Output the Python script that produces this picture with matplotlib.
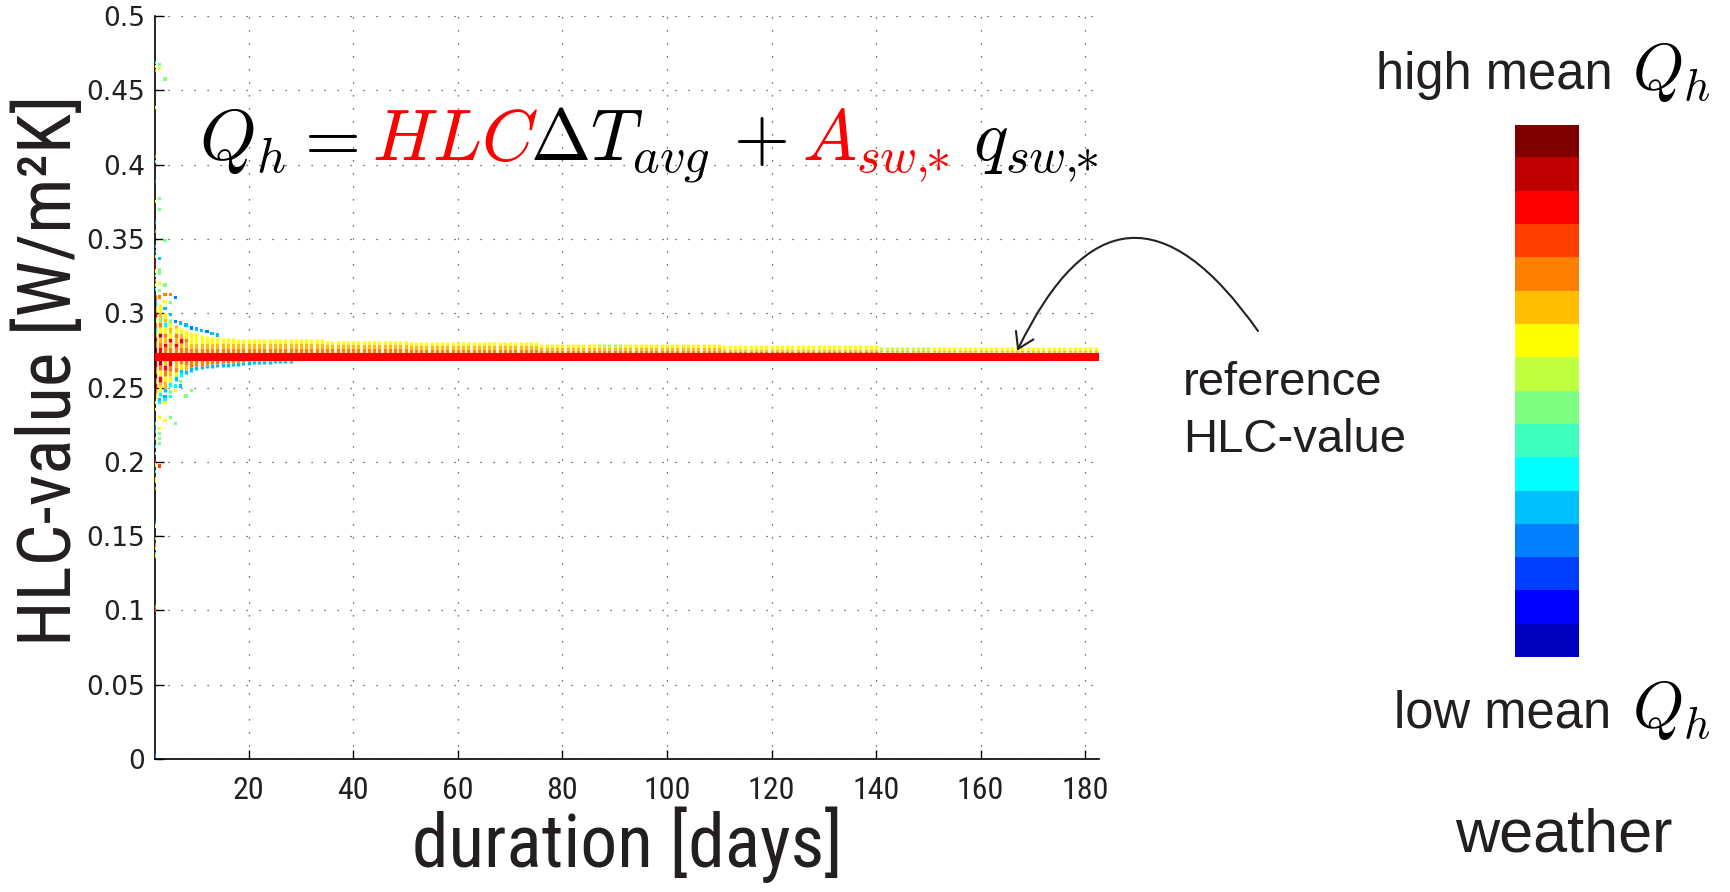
import numpy as np
import matplotlib
matplotlib.use("Agg")
import matplotlib.pyplot as plt
from matplotlib.colors import ListedColormap
from matplotlib import font_manager

W, H, DPI = 1730, 892, 100

plt.rcParams["mathtext.fontset"] = "cm"
_installed = {f.name for f in font_manager.fontManager.ttflist}
SANS = "Liberation Sans"
NARROW = SANS
for _cand in ("Liberation Sans Narrow", "Roboto Condensed", "Arial Narrow"):
    if _cand in _installed:
        NARROW = _cand
        break
LABEL_SIZE = 53 if NARROW != SANS else 46.5
XTICK_SIZE = 23 if NARROW != SANS else 17.5
YTICK_FONT = "DejaVu Sans"
TEXT_COLOR = "#231f20"

# MATLAB jet(16): index 0 = lowest mean Q_h, 15 = highest mean Q_h
weather_colors = [
    (0.00, 0.00, 0.75), (0.00, 0.00, 1.00), (0.00, 0.25, 1.00), (0.00, 0.50, 1.00),
    (0.00, 0.75, 1.00), (0.00, 1.00, 1.00), (0.25, 1.00, 0.75), (0.50, 1.00, 0.50),
    (0.75, 1.00, 0.25), (1.00, 1.00, 0.00), (1.00, 0.75, 0.00), (1.00, 0.50, 0.00),
    (1.00, 0.25, 0.00), (1.00, 0.00, 0.00), (0.75, 0.00, 0.00), (0.50, 0.00, 0.00),
]

# reference HLC-value
ref_hlc = 0.2707
ref_days = [2, 182]

# short durations: stacked estimates per duration as (low, high, weather class)
col_d2 = [(0.2430, 0.2465, 9), (0.2465, 0.2500, 11), (0.2500, 0.2530, 13), (0.2530, 0.2565, 10),
          (0.2565, 0.2600, 14), (0.2600, 0.2640, 11), (0.2640, 0.2700, 13),
          (0.2720, 0.2770, 14), (0.2770, 0.2810, 11), (0.2810, 0.2840, 13), (0.2840, 0.2875, 10),
          (0.2875, 0.2900, 5), (0.2900, 0.2940, 11), (0.2940, 0.2975, 9), (0.2975, 0.3010, 13),
          (0.3010, 0.3050, 10), (0.3050, 0.3085, 4), (0.3085, 0.3125, 11)]
col_d3 = [(0.2440, 0.2470, 5), (0.2470, 0.2510, 9), (0.2510, 0.2540, 10), (0.2540, 0.2575, 13),
          (0.2575, 0.2615, 9), (0.2615, 0.2650, 11), (0.2650, 0.2700, 14),
          (0.2720, 0.2770, 13), (0.2770, 0.2805, 11), (0.2805, 0.2840, 10), (0.2840, 0.2870, 14),
          (0.2870, 0.2905, 9), (0.2905, 0.2940, 11), (0.2940, 0.2975, 7), (0.2975, 0.3010, 10),
          (0.3010, 0.3060, 9)]
col_d4 = [(0.2470, 0.2500, 4), (0.2500, 0.2545, 10), (0.2545, 0.2580, 9), (0.2580, 0.2615, 11),
          (0.2615, 0.2650, 13), (0.2650, 0.2700, 10),
          (0.2720, 0.2770, 11), (0.2770, 0.2800, 13), (0.2800, 0.2840, 10), (0.2840, 0.2870, 11),
          (0.2870, 0.2910, 9), (0.2910, 0.2940, 5), (0.2940, 0.2970, 10), (0.2970, 0.3000, 9)]
col_d5 = [(0.2505, 0.2535, 5), (0.2535, 0.2575, 9), (0.2575, 0.2610, 10), (0.2610, 0.2645, 11),
          (0.2645, 0.2700, 13),
          (0.2720, 0.2770, 11), (0.2770, 0.2805, 10), (0.2805, 0.2835, 13), (0.2835, 0.2870, 9),
          (0.2870, 0.2905, 10), (0.2905, 0.2935, 9), (0.2935, 0.2960, 7)]
col_d6 = [(0.2545, 0.2575, 4), (0.2575, 0.2605, 9), (0.2605, 0.2640, 11), (0.2640, 0.2700, 10),
          (0.2720, 0.2770, 11), (0.2770, 0.2800, 13), (0.2800, 0.2835, 10), (0.2835, 0.2865, 11),
          (0.2865, 0.2900, 9), (0.2900, 0.2920, 10)]
col_d7 = [(0.2570, 0.2595, 5), (0.2595, 0.2625, 4), (0.2625, 0.2655, 9), (0.2655, 0.2700, 11),
          (0.2720, 0.2770, 11), (0.2770, 0.2800, 10), (0.2800, 0.2830, 13), (0.2830, 0.2865, 10),
          (0.2865, 0.2900, 9)]
col_d8 = [(0.2590, 0.2620, 4), (0.2620, 0.2650, 10), (0.2650, 0.2700, 11),
          (0.2720, 0.2770, 11), (0.2770, 0.2805, 10), (0.2805, 0.2835, 11), (0.2835, 0.2885, 9)]
short_days = [2, 3, 4, 5, 6, 7, 8]
short_cols = [col_d2, col_d3, col_d4, col_d5, col_d6, col_d7, col_d8]

# medium durations: cyan fringe below, orange / amber / yellow above the reference
mid_days = list(range(9, 29))
mid_bottom = [0.2605, 0.2615, 0.2622, 0.2628, 0.2634, 0.2638, 0.2640, 0.2641, 0.2644, 0.2647,
              0.2649, 0.2652, 0.2655, 0.2657, 0.2659, 0.2661, 0.2662, 0.2663, 0.2664, 0.2665]
mid_cyan_top = [0.2635, 0.2642, 0.2648, 0.2652, 0.2656, 0.2660, 0.2662, 0.2664, 0.2667, 0.2669,
                0.2671, 0.2680, 0.2680, 0.2680, 0.2680, 0.2680, 0.2680, 0.2680, 0.2680, 0.2680]
mid_top = [0.2875, 0.2865, 0.2855, 0.2848, 0.2842, 0.2838, 0.2835, 0.2832, 0.2830, 0.2828,
           0.2827, 0.2826, 0.2826, 0.2826, 0.2826, 0.2826, 0.2826, 0.2826, 0.2826, 0.2826]
mid_orange_top = 0.2768
mid_amber_top = 0.2800

# long durations: blocks of days sharing the same narrow band above the reference
late_first = [29, 35, 51, 76, 87, 92, 111, 141, 151]
late_last = [34, 50, 75, 86, 91, 110, 140, 150, 182]
late_orange_top = [0.2765, 0.2765, 0.2760, 0.2755, 0.2755, 0.2755, 0.2745, 0.2742, 0.2742]
late_amber_top = [0.2800, 0.2795, 0.2785, 0.2775, 0.2775, 0.2775, 0.2762, 0.2752, 0.2752]
late_top = [0.2826, 0.2815, 0.2805, 0.2792, 0.2792, 0.2792, 0.2783, 0.2775, 0.2775]
late_top_class = [9, 9, 9, 9, 8, 9, 9, 8, 9]

# isolated estimates: (duration, HLC, weather class)
outliers_upper = [
    (2, 0.4688, 5), (2, 0.4659, 9), (2, 0.4632, 11), (2, 0.4385, 9), (2, 0.4053, 11),
    (2, 0.4020, 7), (2, 0.3885, 3), (2, 0.3750, 9), (2, 0.3609, 3), (2, 0.3549, 11),
    (2, 0.3448, 4), (2, 0.3414, 3), (2, 0.3380, 9), (2, 0.3336, 13), (2, 0.3310, 14),
    (2, 0.3283, 9), (2, 0.3255, 7), (2, 0.3220, 11), (2, 0.3190, 9), (2, 0.3160, 5),
    (3, 0.4674, 7), (3, 0.4645, 9), (3, 0.3772, 7), (3, 0.3699, 7), (3, 0.3370, 4),
    (3, 0.3292, 7), (3, 0.3270, 7), (3, 0.3200, 9), (3, 0.3155, 7), (3, 0.3110, 11),
    (4, 0.4575, 7), (4, 0.3489, 7), (4, 0.3190, 7), (4, 0.3125, 11), (4, 0.3080, 9),
    (5, 0.3125, 11), (5, 0.3070, 7), (6, 0.3104, 3),
    (4, 0.3030, 4), (5, 0.2990, 4), (6, 0.2945, 3), (7, 0.2935, 4), (8, 0.2920, 4),
    (9, 0.2900, 3), (10, 0.2893, 4), (11, 0.2882, 4), (12, 0.2876, 3), (13, 0.2862, 4),
    (14, 0.2853, 4),
]
outliers_lower = [
    (2, 0.2400, 9), (2, 0.2353, 9), (2, 0.2259, 7), (2, 0.2236, 3), (2, 0.2219, 3),
    (2, 0.2203, 4), (2, 0.2158, 7), (2, 0.2102, 5), (2, 0.2057, 7), (2, 0.2001, 13),
    (2, 0.1978, 9), (2, 0.1933, 5), (2, 0.1889, 9), (2, 0.1866, 9), (2, 0.1822, 11),
    (2, 0.1590, 3), (2, 0.1568, 9), (2, 0.1485, 7), (2, 0.1440, 11), (2, 0.1418, 9),
    (2, 0.1384, 5), (2, 0.1366, 9), (2, 0.1025, 11), (2, 0.1003, 12), (2, 0.0020, 3),
    (3, 0.2420, 4), (3, 0.2400, 5), (3, 0.2300, 9), (3, 0.2225, 9), (3, 0.2189, 7),
    (3, 0.2156, 7), (3, 0.2122, 7), (3, 0.1971, 12),
    (4, 0.2440, 4), (4, 0.2420, 5), (4, 0.2398, 9), (4, 0.2279, 9),
    (5, 0.2470, 7), (5, 0.2440, 5), (5, 0.2300, 7),
    (6, 0.2510, 5), (6, 0.2480, 9), (6, 0.2259, 7),
    (7, 0.2540, 7), (7, 0.2510, 4), (8, 0.2443, 7), (9, 0.2479, 7),
]

hlc_ticks = [0, 0.05, 0.1, 0.15, 0.2, 0.25, 0.3, 0.35, 0.4, 0.45, 0.5]
hlc_tick_labels = ["0", "0.05", "0.1", "0.15", "0.2", "0.25", "0.3", "0.35", "0.4", "0.45", "0.5"]
duration_ticks = [20, 40, 60, 80, 100, 120, 140, 160, 180]
duration_lim = (2, 182.7)


def px(x, y):
    """pixel position (from top-left) -> figure fraction"""
    return x / W, 1 - y / H


fig = plt.figure(figsize=(W / DPI, H / DPI), dpi=DPI)
fig.patch.set_facecolor("white")

ax_l, ax_r, ax_t, ax_b = 154.6, 1099.3, 16.0, 759.0
ax = fig.add_axes([ax_l / W, 1 - ax_b / H, (ax_r - ax_l) / W, (ax_b - ax_t) / H])

DOT_PT = 2.4  # marker edge in points

# gather the vertical runs of stacked estimates
seg_x, seg_lo, seg_hi, seg_c = [], [], [], []


def add_run(day, lo, hi, cls):
    seg_x.append(day)
    seg_lo.append(lo)
    seg_hi.append(hi)
    seg_c.append(weather_colors[cls])


for day, runs in zip(short_days, short_cols):
    for lo, hi, cls in runs:
        add_run(day, lo, hi, cls)

for i, day in enumerate(mid_days):
    add_run(day, mid_bottom[i], mid_cyan_top[i], 4)
    add_run(day, mid_cyan_top[i], mid_orange_top, 11)
    add_run(day, mid_orange_top, mid_amber_top, 10)
    add_run(day, mid_amber_top, mid_top[i], 9)

for k in range(len(late_first)):
    for day in range(late_first[k], late_last[k] + 1):
        add_run(day, ref_hlc, late_orange_top[k], 11)
        add_run(day, late_orange_top[k], late_amber_top[k], 10)
        add_run(day, late_amber_top[k], late_top[k], late_top_class[k])

ax.vlines(seg_x, seg_lo, seg_hi, colors=seg_c, linewidth=DOT_PT, zorder=2)

pts = outliers_upper + outliers_lower
ax.scatter([p[0] for p in pts], [p[1] for p in pts], s=DOT_PT ** 2, marker="s",
           c=[weather_colors[p[2]] for p in pts], linewidths=0, zorder=3)

ax.plot(ref_days, [ref_hlc, ref_hlc], color="#ff0000", linewidth=5.8,
        solid_capstyle="projecting", zorder=4)

ax.set_xlim(*duration_lim)
ax.set_ylim(0, 0.5)
ax.set_xticks(duration_ticks)
ax.set_xticklabels([str(t) for t in duration_ticks], fontfamily=NARROW, fontsize=XTICK_SIZE)
ax.set_yticks(hlc_ticks)
ax.set_yticklabels(hlc_tick_labels, fontfamily=YTICK_FONT, fontsize=19)
ax.tick_params(axis="both", direction="in", length=6.5, width=1.0, color="black",
               labelcolor=TEXT_COLOR)
ax.tick_params(axis="x", pad=12)
ax.tick_params(axis="y", pad=7)
ax.set_axisbelow(True)
ax.grid(True, linestyle=(0, (1, 9.4)), color="#444444", linewidth=0.9)
for side in ("top", "right"):
    ax.spines[side].set_visible(False)
for side in ("left", "bottom"):
    ax.spines[side].set_linewidth(1.2)

ax.set_xlabel("duration [days]", fontfamily=NARROW, fontsize=LABEL_SIZE, color=TEXT_COLOR,
              va="baseline")
ax.xaxis.set_label_coords(0.5, -(867 - ax_b) / (ax_b - ax_t))
ax.set_ylabel("HLC-value [W/m²K]", fontfamily=NARROW, fontsize=LABEL_SIZE, color=TEXT_COLOR)
ax.yaxis.set_label_coords((86 - ax_l) / (ax_r - ax_l), (ax_b - 370) / (ax_b - ax_t))

# governing equation, unknowns in red
eq_parts = [
    (198.6, r"$Q_h$", "black"),
    (292.0, r"$=$", "black"),
    (372.0, r"$HLC$", "#ff0000"),
    (529.6, r"$\Delta T_{avg}$", "black"),
    (733.0, r"$+$", "black"),
    (802.0, r"$A_{sw,\!\!\!*}$", "#ff0000"),
    (973.0, r"$q_{sw,\!\!\!*}$", "black"),
]
for x0, s, col in eq_parts:
    fig.text(*px(x0, 160), s, fontsize=52, color=col, ha="left", va="baseline")

# annotation of the reference line
ax.annotate("", xy=(167, 0.2748), xycoords="data",
            xytext=(1258, H - 331), textcoords="figure pixels",
            arrowprops=dict(arrowstyle="->,head_length=0.55,head_width=0.35",
                            connectionstyle="arc3,rad=0.85", color="#222222", lw=1.5,
                            shrinkA=0, shrinkB=0, mutation_scale=20),
            annotation_clip=False)
fig.text(*px(1183, 395), "reference", fontfamily=SANS, fontsize=34, color=TEXT_COLOR,
         ha="left", va="baseline")
fig.text(*px(1183, 452), "HLC-value", fontfamily=SANS, fontsize=34, color=TEXT_COLOR,
         ha="left", va="baseline")

# weather colour scale
cax = fig.add_axes([1515 / W, 1 - 657.5 / H, 64 / W, (657.5 - 124.5) / H])
cax.imshow(np.arange(len(weather_colors)).reshape(-1, 1), cmap=ListedColormap(weather_colors),
           origin="lower", aspect="auto", interpolation="nearest")
cax.axis("off")

fig.text(*px(1613, 89), "high mean", fontfamily=SANS, fontsize=36.5, color=TEXT_COLOR,
         ha="right", va="baseline")
fig.text(*px(1632, 89), r"$Q_h$", fontsize=47, color="black", ha="left", va="baseline")
fig.text(*px(1611, 727), "low mean", fontfamily=SANS, fontsize=36.5, color=TEXT_COLOR,
         ha="right", va="baseline")
fig.text(*px(1632, 727), r"$Q_h$", fontsize=47, color="black", ha="left", va="baseline")
fig.text(*px(1564, 852), "weather", fontfamily=SANS, fontsize=44, color=TEXT_COLOR,
         ha="center", va="baseline")

fig.savefig("out.png", dpi=DPI, facecolor="white")
